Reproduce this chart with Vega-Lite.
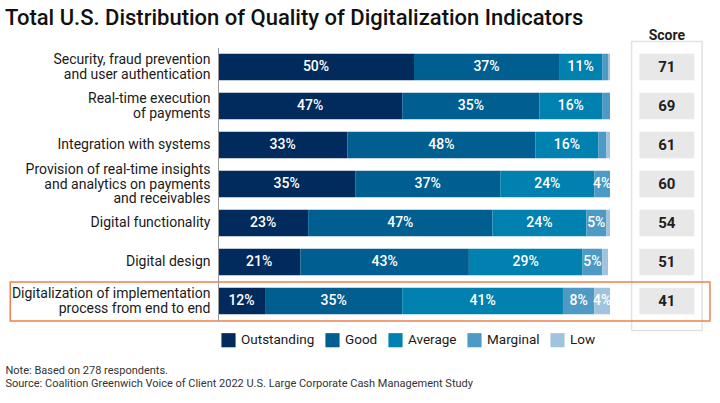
{
  "$schema": "https://vega.github.io/schema/vega-lite/v6.json",
  "width": 392,
  "height": 273,
  "autosize": {"type": "none"},
  "padding": {"left": 218, "top": 47.5, "right": 110, "bottom": 82.5},
  "background": "white",
  "title": {
    "text": "Total U.S. Distribution of Quality of Digitalization Indicators",
    "anchor": "start",
    "frame": "group",
    "dx": -213,
    "dy": 18,
    "offset": 0,
    "baseline": "alphabetic",
    "font": "Roboto",
    "fontSize": 22,
    "fontWeight": 500,
    "color": "#111111"
  },
  "datasets": {
    "shares": [
      {"cat": "Security, fraud prevention|and user authentication", "level": "Outstanding", "rank": 1, "pct": 50},
      {"cat": "Security, fraud prevention|and user authentication", "level": "Good", "rank": 2, "pct": 37},
      {"cat": "Security, fraud prevention|and user authentication", "level": "Average", "rank": 3, "pct": 11},
      {"cat": "Security, fraud prevention|and user authentication", "level": "Marginal", "rank": 4, "pct": 1.5},
      {"cat": "Security, fraud prevention|and user authentication", "level": "Low", "rank": 5, "pct": 0.5},
      {"cat": "Real-time execution|of payments", "level": "Outstanding", "rank": 1, "pct": 47},
      {"cat": "Real-time execution|of payments", "level": "Good", "rank": 2, "pct": 35},
      {"cat": "Real-time execution|of payments", "level": "Average", "rank": 3, "pct": 16},
      {"cat": "Real-time execution|of payments", "level": "Marginal", "rank": 4, "pct": 2},
      {"cat": "Real-time execution|of payments", "level": "Low", "rank": 5, "pct": 0},
      {"cat": "Integration with systems", "level": "Outstanding", "rank": 1, "pct": 33},
      {"cat": "Integration with systems", "level": "Good", "rank": 2, "pct": 48},
      {"cat": "Integration with systems", "level": "Average", "rank": 3, "pct": 16},
      {"cat": "Integration with systems", "level": "Marginal", "rank": 4, "pct": 2},
      {"cat": "Integration with systems", "level": "Low", "rank": 5, "pct": 1},
      {"cat": "Provision of real-time insights|and analytics on payments|and receivables", "level": "Outstanding", "rank": 1, "pct": 35},
      {"cat": "Provision of real-time insights|and analytics on payments|and receivables", "level": "Good", "rank": 2, "pct": 37},
      {"cat": "Provision of real-time insights|and analytics on payments|and receivables", "level": "Average", "rank": 3, "pct": 24},
      {"cat": "Provision of real-time insights|and analytics on payments|and receivables", "level": "Marginal", "rank": 4, "pct": 4},
      {"cat": "Provision of real-time insights|and analytics on payments|and receivables", "level": "Low", "rank": 5, "pct": 0},
      {"cat": "Digital functionality", "level": "Outstanding", "rank": 1, "pct": 23},
      {"cat": "Digital functionality", "level": "Good", "rank": 2, "pct": 47},
      {"cat": "Digital functionality", "level": "Average", "rank": 3, "pct": 24},
      {"cat": "Digital functionality", "level": "Marginal", "rank": 4, "pct": 5},
      {"cat": "Digital functionality", "level": "Low", "rank": 5, "pct": 1},
      {"cat": "Digital design", "level": "Outstanding", "rank": 1, "pct": 21},
      {"cat": "Digital design", "level": "Good", "rank": 2, "pct": 43},
      {"cat": "Digital design", "level": "Average", "rank": 3, "pct": 29},
      {"cat": "Digital design", "level": "Marginal", "rank": 4, "pct": 5},
      {"cat": "Digital design", "level": "Low", "rank": 5, "pct": 1.5},
      {"cat": "Digitalization of implementation|process from end to end", "level": "Outstanding", "rank": 1, "pct": 12},
      {"cat": "Digitalization of implementation|process from end to end", "level": "Good", "rank": 2, "pct": 35},
      {"cat": "Digitalization of implementation|process from end to end", "level": "Average", "rank": 3, "pct": 41},
      {"cat": "Digitalization of implementation|process from end to end", "level": "Marginal", "rank": 4, "pct": 8},
      {"cat": "Digitalization of implementation|process from end to end", "level": "Low", "rank": 5, "pct": 4}
    ],
    "scores": [
      {"cat": "Security, fraud prevention|and user authentication", "score": 71},
      {"cat": "Real-time execution|of payments", "score": 69},
      {"cat": "Integration with systems", "score": 61},
      {"cat": "Provision of real-time insights|and analytics on payments|and receivables", "score": 60},
      {"cat": "Digital functionality", "score": 54},
      {"cat": "Digital design", "score": 51},
      {"cat": "Digitalization of implementation|process from end to end", "score": 41}
    ]
  },
  "layer": [
    {
      "data": {"values": [{}]},
      "mark": {"type": "rect", "fill": "white", "stroke": "#E2E2E2", "strokeWidth": 1.5, "yOffset": -25.5, "y2Offset": 29.5},
      "encoding": {
        "x": {"datum": 105.5, "type": "quantitative"},
        "x2": {"datum": 123.5},
        "y": {"datum": "Security, fraud prevention|and user authentication", "type": "nominal"},
        "y2": {"datum": "Digitalization of implementation|process from end to end"}
      }
    },
    {
      "data": {"values": [{}]},
      "mark": {"type": "rect", "filled": false, "stroke": "#F0804F", "strokeWidth": 1.5, "yOffset": 0.5, "y2Offset": 1.5},
      "encoding": {
        "x": {"datum": -53, "type": "quantitative"},
        "x2": {"datum": 125.5},
        "y": {"datum": "Digitalization of implementation|process from end to end", "type": "nominal"}
      }
    },
    {
      "data": {"name": "shares"},
      "transform": [
        {"stack": "pct", "groupby": ["cat"], "sort": [{"field": "rank", "order": "ascending"}], "as": ["x0", "x1"]}
      ],
      "mark": {"type": "bar", "height": {"band": 0.68}},
      "encoding": {
        "y": {
          "field": "cat",
          "type": "nominal",
          "scale": {
            "domain": [
              "Security, fraud prevention|and user authentication",
              "Real-time execution|of payments",
              "Integration with systems",
              "Provision of real-time insights|and analytics on payments|and receivables",
              "Digital functionality",
              "Digital design",
              "Digitalization of implementation|process from end to end"
            ],
            "paddingInner": 0,
            "paddingOuter": 0
          },
          "axis": {
            "title": null,
            "labelExpr": "split(datum.label, '|')",
            "labelFont": "Roboto",
            "labelFontSize": 14,
            "labelLineHeight": 14.5,
            "labelColor": "#1a1a1a",
            "labelPadding": 8,
            "labelLimit": 260,
            "labelOffset": {
              "condition": [
                {"test": "length(datum.value) > 60", "value": -14},
                {"test": "indexof(datum.value, '|') >= 0", "value": -7}
              ],
              "value": 0
            },
            "ticks": false,
            "grid": false,
            "domainColor": "#9a9a9a",
            "domainWidth": 1
          }
        },
        "x": {
          "field": "x0",
          "type": "quantitative",
          "scale": {"domain": [0, 100], "nice": false, "zero": false},
          "axis": {
            "labels": false,
            "ticks": false,
            "domain": false,
            "grid": false,
            "title": [
              "Note: Based on 278 respondents.",
              "Source: Coalition Greenwich Voice of Client 2022 U.S. Large Corporate Cash Management Study"
            ],
            "titleX": -213,
            "titleY": 44,
            "titleAnchor": "start",
            "titleAlign": "left",
            "titleBaseline": "top",
            "titleFont": "Roboto",
            "titleFontSize": 11,
            "titleFontWeight": "normal",
            "titleColor": "#333333",
            "titleLineHeight": 13
          }
        },
        "x2": {"field": "x1"},
        "color": {
          "field": "level",
          "type": "nominal",
          "scale": {
            "domain": ["Outstanding", "Good", "Average", "Marginal", "Low"],
            "range": ["#002B5C", "#005E91", "#0081AF", "#4D9AC4", "#A0C4DD"]
          },
          "legend": {
            "title": null,
            "orient": "none",
            "direction": "horizontal",
            "legendX": 3,
            "legendY": 285,
            "symbolType": "square",
            "symbolSize": 200,
            "symbolStrokeWidth": 0,
            "labelFont": "Roboto",
            "labelFontSize": 13.5,
            "labelColor": "#1a1a1a",
            "labelOffset": 5,
            "columnPadding": 10
          }
        }
      }
    },
    {
      "data": {"name": "shares"},
      "transform": [
        {"stack": "pct", "groupby": ["cat"], "sort": [{"field": "rank", "order": "ascending"}], "as": ["x0", "x1"]},
        {"filter": "datum.pct >= 4"},
        {"calculate": "(datum.x0 + datum.x1) / 2", "as": "mid"},
        {"calculate": "datum.pct + '%'", "as": "label"}
      ],
      "mark": {"type": "text", "color": "white", "font": "Roboto", "fontSize": 14, "fontWeight": 500, "align": "center", "baseline": "middle"},
      "encoding": {
        "y": {"field": "cat", "type": "nominal"},
        "x": {"field": "mid", "type": "quantitative"},
        "text": {"field": "label"}
      }
    },
    {
      "data": {"name": "scores"},
      "mark": {"type": "bar", "color": "#E8E8E8", "height": {"band": 0.68}},
      "encoding": {
        "y": {"field": "cat", "type": "nominal"},
        "x": {"datum": 107.5, "type": "quantitative"},
        "x2": {"datum": 121.5}
      }
    },
    {
      "data": {"name": "scores"},
      "mark": {"type": "text", "font": "Roboto", "fontSize": 15, "fontWeight": "bold", "color": "#1f1f1f", "align": "center", "baseline": "middle"},
      "encoding": {
        "y": {"field": "cat", "type": "nominal"},
        "x": {"datum": 114.5, "type": "quantitative"},
        "text": {"field": "score"}
      }
    },
    {
      "data": {"values": [{}]},
      "mark": {"type": "text", "text": "Score", "font": "Roboto", "fontSize": 14, "fontWeight": "bold", "color": "#1f1f1f", "align": "center", "baseline": "middle", "yOffset": -31},
      "encoding": {
        "y": {"datum": "Security, fraud prevention|and user authentication", "type": "nominal"},
        "x": {"datum": 114.5, "type": "quantitative"}
      }
    }
  ],
  "config": {
    "view": {"stroke": null},
    "font": "Roboto"
  }
}
